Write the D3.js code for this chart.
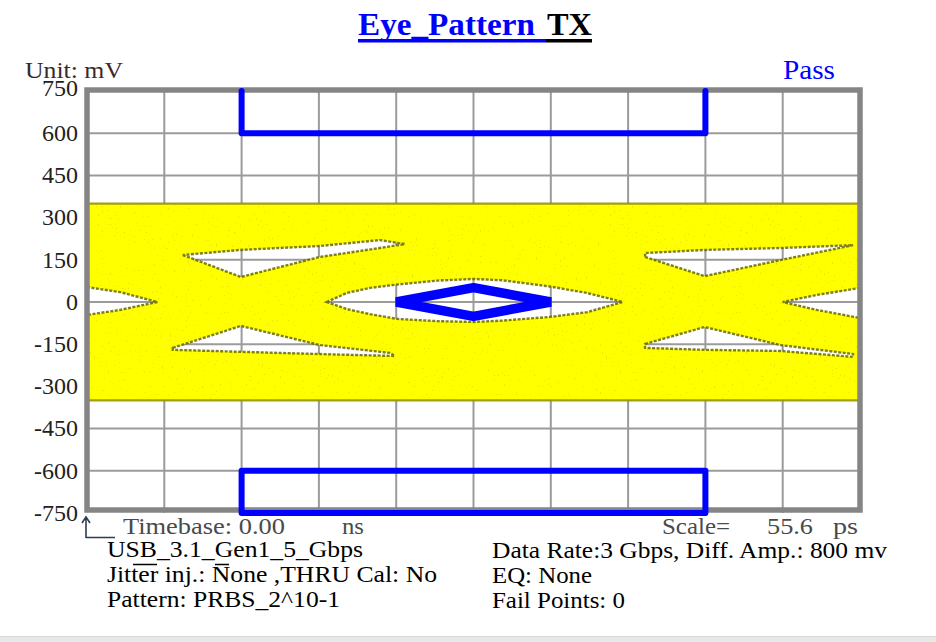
<!DOCTYPE html>
<html><head><meta charset="utf-8">
<script src="https://cdn.jsdelivr.net/npm/d3@7"></script>
<style>
html,body{margin:0;padding:0;background:#fff;overflow:hidden;}
svg{display:block;}
</style></head>
<body>
<svg id="c" width="936" height="642">
  <defs>
    <filter id="speck" x="0" y="0" width="100%" height="100%" filterUnits="objectBoundingBox">
      <feTurbulence type="fractalNoise" baseFrequency="0.5" numOctaves="2" seed="7" result="n"/>
      <feColorMatrix in="n" type="matrix" values="0 0 0 0 0.3  0 0 0 0 0.3  0 0 0 0 0  16 0 0 0 -11"/>
    </filter>
  </defs>
</svg>
<script>
// ---------- data (x in time divisions of 55.6 ps, y in mV) ----------
const yTicks = [750, 600, 450, 300, 150, 0, -150, -300, -450, -600, -750];
const xDivisions = [0, 1, 2, 3, 4, 5, 6, 7, 8, 9, 10];
const bandLevels = [350, -350];
const eyeCenter = [[3.10,0],[3.36,32],[3.66,50],[4.01,62],[4.53,76],[5.0,82],[5.38,77],[5.99,55],[6.47,32],[6.93,0],[6.47,-36],[5.99,-53],[5.38,-66],[5.0,-71],[4.53,-68],[4.01,-60],[3.66,-43],[3.36,-25]];
const eyeLeft = [[0,53],[0.43,35],[0.91,0],[0.43,-28],[0,-46]];
const eyeRight = [[10,50],[9.44,25],[9.0,0],[9.44,-28],[10,-57]];
const gapUpperA = [[1.24,167],[1.99,89],[3.01,160],[3.79,192],[4.11,206],[3.79,220],[3.01,199],[1.98,185]];
const gapLowerA = [[1.11,-163],[1.99,-85],[3.01,-153],[3.92,-181],[3.98,-192],[3.01,-185],[1.99,-177],[1.11,-170]];
const gapUpperB = [[7.22,160],[7.99,92],[8.97,149],[9.91,202],[8.97,192],[7.99,185],[7.22,174]];
const gapLowerB = [[7.22,-149],[7.99,-89],[8.97,-153],[9.91,-185],[9.91,-195],[8.97,-174],[7.99,-170],[7.22,-163]];
const maskTop = [[2,750],[2,600],[8,600],[8,750]];
const maskBottom = [[2,-600],[8,-600],[8,-750],[2,-750]];
const maskCenter = [[4.0,0],[5,51],[6.0,0],[5,-51]];
const titleParts = ["Eye_Pattern", "TX"];
const statusText = "Pass";
const unitText = "Unit: mV";
const timebaseLabels = ["Timebase: 0.00", "ns", "Scale=", "55.6", "ps"];
const infoLeft = ["USB_3.1_Gen1_5_Gbps", "Jitter inj.: None ,THRU Cal: No", "Pattern: PRBS_2^10-1"];
const infoRight = ["Data Rate:3 Gbps, Diff. Amp.: 800 mv", "EQ: None", "Fail Points: 0"];

// ---------- drawing ----------
const svg = d3.select("#c");
const FONT = "'Liberation Serif','Times New Roman',serif";
const x = d3.scaleLinear().domain([0, 10]).range([87, 860]);
const y = d3.scaleLinear().domain([-750, 750]).range([513, 91]);

// grid
const grid = svg.append("g").attr("stroke", "#9b9b9b").attr("stroke-width", 2);
grid.selectAll("line.v").data(xDivisions.slice(1, -1)).join("line")
  .attr("x1", d => x(d)).attr("x2", d => x(d)).attr("y1", y(750)).attr("y2", y(-750));
grid.selectAll("line.h").data(yTicks.slice(1, -1)).join("line")
  .attr("x1", x(0)).attr("x2", x(10)).attr("y1", d => y(d)).attr("y2", d => y(d));

// eye pattern (yellow band with open regions)
const poly = pts => "M" + pts.map(p => x(p[0]) + "," + y(p[1])).join("L") + "Z";
const holes = [eyeCenter, eyeLeft, eyeRight, gapUpperA, gapLowerA, gapUpperB, gapLowerB];
const bandPath = poly([[0, bandLevels[0]], [10, bandLevels[0]], [10, bandLevels[1]], [0, bandLevels[1]]]) + holes.map(poly).join("");
svg.select("defs").append("clipPath").attr("id", "bandClip")
  .append("path").attr("d", bandPath).attr("clip-rule", "evenodd");
svg.append("path").attr("d", bandPath).attr("fill", "#ffff00").attr("fill-rule", "evenodd");
// sparse darker speckle texture of the overlaid traces
svg.append("g").attr("clip-path", "url(#bandClip)")
  .append("rect").attr("x", x(0)).attr("y", y(bandLevels[0])).attr("width", x(10) - x(0))
  .attr("height", y(bandLevels[1]) - y(bandLevels[0])).attr("fill", "#000").attr("filter", "url(#speck)").attr("opacity", 0.22);
// darker speckled edges
svg.append("g").selectAll("path").data(holes).join("path")
  .attr("d", poly).attr("fill", "none").attr("stroke", "#5f5f00").attr("stroke-width", 2.4)
  .attr("stroke-opacity", 0.8).attr("stroke-dasharray", "3,1.5");
svg.append("g").selectAll("line").data(bandLevels).join("line")
  .attr("x1", x(0)).attr("x2", x(10)).attr("y1", d => y(d)).attr("y2", d => y(d))
  .attr("stroke", "#8f8f00").attr("stroke-width", 2.2).attr("stroke-opacity", 0.85);

// frame
svg.append("rect").attr("x", x(0)).attr("y", y(750) - 1).attr("width", x(10) - x(0))
  .attr("height", y(-750) - y(750) - 2).attr("fill", "none").attr("stroke", "#858585").attr("stroke-width", 5.5);

// mask
const line = d3.line().x(d => x(d[0])).y(d => y(d[1]));
const maskG = svg.append("g").attr("fill", "none").attr("stroke", "#0000ff").attr("stroke-linejoin", "round").attr("stroke-linecap", "round");
maskG.append("path").attr("d", line(maskTop)).attr("stroke-width", 6);
maskG.append("path").attr("d", line(maskBottom) + "Z").attr("stroke-width", 6);
maskG.append("path").attr("d", line(maskCenter) + "Z").attr("stroke-width", 9.5).attr("stroke-linejoin", "bevel");

// y axis
const yAxis = d3.axisLeft(y).tickValues(yTicks).tickSize(0).tickPadding(0).tickFormat(d3.format("d"));
const ag = svg.append("g").attr("transform", "translate(78,0)").call(yAxis);
ag.select(".domain").remove();
ag.selectAll("text").attr("font-family", FONT).attr("font-size", 24).attr("fill", "#222")
  .attr("dy", d => d === 750 ? "0.18em" : "0.3em")
  .text(d => String(d).replace("\u2212", "-"));

// title
svg.append("text").attr("x", 358).attr("y", 35).attr("font-family", FONT).attr("font-weight", "bold")
  .attr("font-size", 31).attr("fill", "#0000ff").attr("textLength", 177).attr("lengthAdjust", "spacingAndGlyphs").text(titleParts[0]);
svg.append("text").attr("x", 547).attr("y", 35).attr("font-family", FONT).attr("font-weight", "bold")
  .attr("font-size", 31).attr("fill", "#000").attr("textLength", 45).attr("lengthAdjust", "spacingAndGlyphs").text(titleParts[1]);
svg.append("rect").attr("x", 358).attr("y", 39).attr("width", 188).attr("height", 3.5).attr("fill", "#0000ff");
svg.append("rect").attr("x", 546).attr("y", 39).attr("width", 46).attr("height", 3.5).attr("fill", "#000");

// status + unit
svg.append("text").attr("x", 783).attr("y", 79).attr("font-family", FONT).attr("font-size", 28)
  .attr("fill", "#0000ff").attr("textLength", 52).attr("lengthAdjust", "spacingAndGlyphs").text(statusText);
svg.append("text").attr("x", 25).attr("y", 78).attr("font-family", FONT).attr("font-size", 24)
  .attr("fill", "#3a2b2b").attr("textLength", 98).attr("lengthAdjust", "spacingAndGlyphs").text(unitText);

// timebase row
const tbX = [123, 342, 662, 767, 833], tbW = [162, 22, 68, 46, 25];
svg.append("g").selectAll("text").data(timebaseLabels).join("text")
  .attr("x", (d, i) => tbX[i]).attr("y", 534).attr("font-family", FONT).attr("font-size", 23)
  .attr("fill", "#4a4a4a").attr("textLength", (d, i) => tbW[i]).attr("lengthAdjust", "spacingAndGlyphs").text(d => d);
// small origin marker
svg.append("path").attr("d", "M86,538V518M82,523L86,517L90,523M86,537.5H115")
  .attr("fill", "none").attr("stroke", "#2d3b55").attr("stroke-width", 1.6);

// info rows
const leftW = [256, 330, 233], rightW = [395, 100, 133], rowY = [557, 582, 607];
svg.append("g").selectAll("text").data(infoLeft).join("text")
  .attr("x", 107).attr("y", (d, i) => rowY[i]).attr("font-family", FONT).attr("font-size", 24).attr("fill", "#000")
  .attr("textLength", (d, i) => leftW[i]).attr("lengthAdjust", "spacingAndGlyphs").text(d => d);
svg.append("g").selectAll("text").data(infoRight).join("text")
  .attr("x", 492).attr("y", (d, i) => rowY[i] + 1).attr("font-family", FONT).attr("font-size", 24).attr("fill", "#000")
  .attr("textLength", (d, i) => rightW[i]).attr("lengthAdjust", "spacingAndGlyphs").text(d => d);
// stray overline marks in the reference text row
svg.append("path").attr("d", "M133,564.5H157M215,564.5H229").attr("stroke", "#000").attr("stroke-width", 1.6);

// bottom page strip
svg.append("rect").attr("x", 0).attr("y", 636).attr("width", 936).attr("height", 6).attr("fill", "#e8e8e8");
svg.append("line").attr("x1", 0).attr("x2", 936).attr("y1", 636.5).attr("y2", 636.5).attr("stroke", "#d6d6d6");
</script>
</body></html>
